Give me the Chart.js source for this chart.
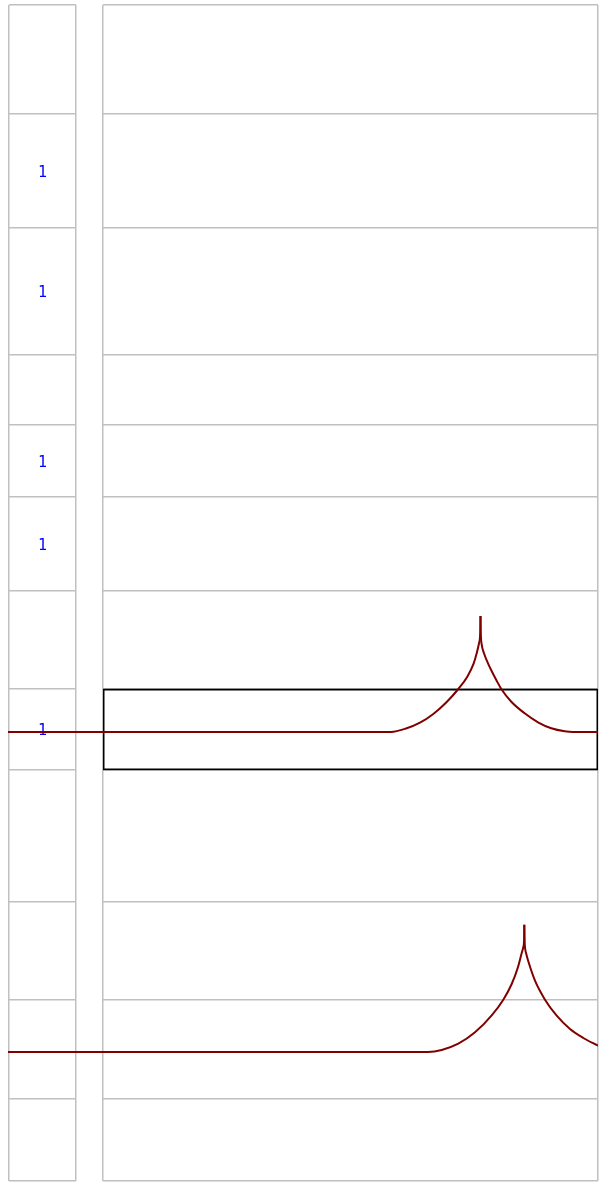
<!DOCTYPE html>
<html>
<head>
<meta charset="utf-8">
<script src="https://cdn.jsdelivr.net/npm/chart.js@4.4.1/dist/chart.umd.min.js"></script>
<style>
  html, body { margin: 0; padding: 0; background: #fff; }
  #wrap { position: relative; width: 607px; height: 1183px; overflow: hidden; }
  #wrap canvas { position: absolute; top: 0; }
</style>
</head>
<body>
<div id="wrap">
  <canvas id="leftGrid" width="90" height="1183" style="left:0"></canvas>
  <canvas id="rightGrid" width="517" height="1183" style="left:90px"></canvas>
  <canvas id="curves" width="607" height="1183" style="left:0"></canvas>
</div>
<script>
// row boundaries of the table (top = 0)
const ROW_EDGES = [0, 109, 222.5, 350, 420, 492, 586, 684, 765, 897, 994.5, 1094, 1176];
// text in the left column, one per row
const CELL_LABELS = ["", "1", "1", "", "1", "1", "", "1", "", "", "", ""];
// highlighted row in the right column
const BOX_ROW = [684, 765];

// first pulse
const PULSE1_X = [0, 383, 398.7, 412, 425.3, 438.7, 450.3, 459.3, 465.7, 468.7, 471, 472, 472.3, 472.5,
                  472.7, 473, 473.5, 476, 480, 484, 488.3, 493.3, 503.3, 516.7, 530, 543.3, 556.7, 565, 590];
const PULSE1_Y = [727, 727, 723.3, 717.7, 709, 697, 684, 671.7, 658.3, 648.3, 638.3, 632, 624, 611,
                  624, 633, 638.3, 648.3, 658.3, 666.7, 675, 684, 696.7, 708.3, 717.3, 723.3, 726.3, 727, 727];

// second pulse
const PULSE2_X = [0, 420, 433.7, 450.3, 467, 483.7, 495.3, 503.7, 509.7, 513.7, 515.3, 516, 516.2, 516.3,
                  516.5, 516.7, 517.2, 518.3, 520.3, 527, 537, 548.7, 562, 575.3, 590];
const PULSE2_Y = [1047, 1047, 1045, 1038.7, 1027.3, 1010.3, 994.7, 979, 963, 948, 942, 937, 930, 919.7,
                  930, 938, 944, 949, 956.3, 975.7, 994.7, 1010.7, 1024, 1033, 1040.7];

const Y_MAX = 1176;
const X_MAX = 590;

// colours
const COL_GRID  = "#c0c0c0";
const COL_LABEL = "#0000ff";
const COL_LINE  = "#800000";

const common = {
  responsive: false,
  devicePixelRatio: 1,
  animation: false,
  events: [],
  plugins: { legend: { display: false }, tooltip: { enabled: false } }
};

// horizontal table lines
function rowScale() {
  return {
    type: "linear", reverse: true, min: 0, max: Y_MAX,
    afterBuildTicks: s => { s.ticks = ROW_EDGES.map(v => ({ value: v })); },
    ticks: { display: false },
    grid: { color: COL_GRID, lineWidth: 1.5, drawTicks: false },
    border: { display: false }
  };
}

// vertical table lines (left + right edge)
function edgeScale() {
  return {
    type: "linear", position: "bottom", min: 0, max: 1,
    offset: false,
    afterBuildTicks: s => { s.ticks = [{ value: 0 }, { value: 1 }]; },
    ticks: { display: false },
    grid: { color: COL_GRID, lineWidth: 1.5, drawTicks: false, offset: false },
    border: { display: false }
  };
}

// draw the "1"s centred in their cells
const cellText = {
  id: "cellText",
  afterDraw(chart) {
    const { ctx, chartArea, scales } = chart;
    const cx = (chartArea.left + chartArea.right) / 2;
    ctx.save();
    ctx.font = "15px 'DejaVu Sans Mono', monospace";
    ctx.fillStyle = COL_LABEL;
    ctx.textAlign = "center";
    ctx.textBaseline = "middle";
    CELL_LABELS.forEach((t, i) => {
      if (!t) return;
      const cy = scales.y.getPixelForValue((ROW_EDGES[i] + ROW_EDGES[i + 1]) / 2);
      ctx.fillText(t, cx, cy + 2);
    });
    ctx.restore();
  }
};

// left column
new Chart(document.getElementById("leftGrid"), {
  type: "line",
  data: { datasets: [] },
  options: {
    ...common,
    layout: { padding: { left: 9, right: 14, top: 5, bottom: 2 } },
    scales: { x: edgeScale(), y: rowScale() }
  },
  plugins: [cellText]
});

// right column with the outlined row
new Chart(document.getElementById("rightGrid"), {
  type: "bar",
  data: {
    labels: [""],
    datasets: [{
      data: [BOX_ROW],
      backgroundColor: "rgba(0,0,0,0)",
      borderColor: "#000000",
      borderWidth: 1,
      borderSkipped: false,
      inflateAmount: 0.5,
      barPercentage: 1,
      categoryPercentage: 1
    }]
  },
  options: {
    ...common,
    layout: { padding: { left: 13, right: 9, top: 5, bottom: 2 } },
    scales: {
      x: { type: "category", display: false },
      x2: edgeScale(),
      y: rowScale()
    }
  }
});

// pulses on top of everything; each pulse is drawn as two halves
// so the tip stays a sharp cusp
function halves(xs, ys) {
  const pts = xs.map((x, i) => ({ x: x, y: ys[i] }));
  const tip = ys.indexOf(Math.min(...ys));
  return [pts.slice(0, tip + 1), pts.slice(tip)];
}

const datasets = [];
[[PULSE1_X, PULSE1_Y], [PULSE2_X, PULSE2_Y]].forEach(([xs, ys]) => {
  halves(xs, ys).forEach(d => datasets.push({ data: d }));
});

new Chart(document.getElementById("curves"), {
  type: "line",
  data: { datasets: datasets },
  options: {
    ...common,
    layout: { padding: { left: 8, right: 9, top: 5, bottom: 2 } },
    elements: {
      line: { borderColor: COL_LINE, borderWidth: 2, cubicInterpolationMode: "monotone", fill: false },
      point: { radius: 0 }
    },
    scales: {
      x: { type: "linear", min: 0, max: X_MAX, display: false },
      y: { type: "linear", reverse: true, min: 0, max: Y_MAX, display: false }
    }
  }
});
</script>
</body>
</html>
